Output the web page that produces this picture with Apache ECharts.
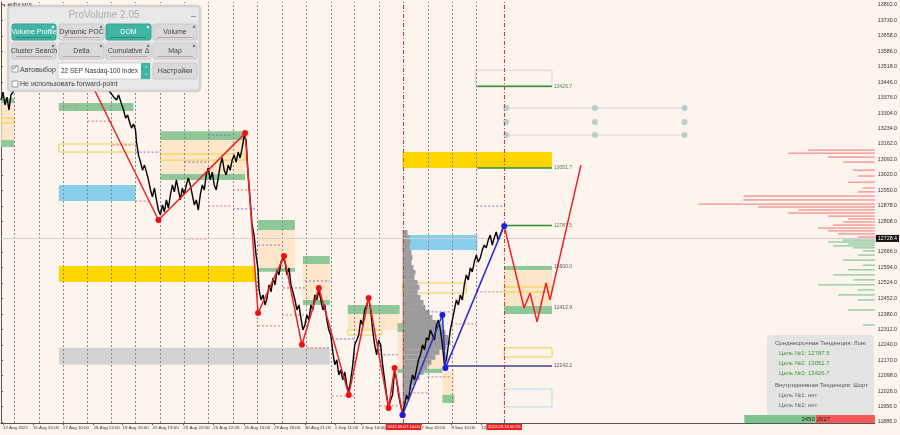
<!DOCTYPE html>
<html>
<head>
<meta charset="utf-8">
<script src="https://cdn.jsdelivr.net/npm/echarts@6/dist/echarts.min.js"></script>
<style>
  html, body { margin: 0; padding: 0; background: #fdf4ee; }
  #chart { width: 900px; height: 435px; }
</style>
</head>
<body>
<div id="chart"></div>
<script>
// price axis labels (right side)
const priceTicks = [13802, 13730, 13658, 13586, 13518, 13446, 13376, 13304, 13234, 13162, 13092, 13020,
  12950, 12878, 12808, 12666, 12594, 12524, 12452, 12380, 12312, 12240, 12170, 12098, 12026, 11956, 11886]
// time axis: bar index of each label and its text
const timeIdx = [2, 32, 62, 93, 122, 152, 183, 213, 244, 274, 305, 335, 362, 422, 452, 482]
const timeText = ['12 Aug 2022', '15 Aug 20:00', '17 Aug 10:00', '18 Aug 13:00', '19 Aug 16:00', '22 Aug 19:00',
  '23 Aug 22:00', '25 Aug 12:00', '26 Aug 15:00', '29 Aug 18:00', '30 Aug 21:00', '1 Sep 11:00', '2 Sep 14:00',
  '7 Sep 20:00', '9 Sep 10:00', '12 Sep 13:00']
const sessionIdx = [13, 38, 62, 87, 111, 135, 160, 184, 208, 233, 257, 282, 306, 331, 355, 380, 429, 453, 477]
const markedBars = [[404, '2022.09.07 10:00'], [505, '2022.09.13 00:15']]
const lastPrice = 12728.4

// NDX M15 close path [bar, price]
const priceBars = [[0,13364],[2,13400],[4,13341],[6,13377],[8,13318],[10,13387],[20,13455],[30,13501],[40,13547],
  [50,13478],[60,13524],[70,13455],[80,13501],[90,13433],[100,13478],[108,13410],[113,13378],[116,13364],[118,13387],
  [121,13345],[123,13318],[125,13281],[127,13295],[129,13263],[131,13235],[133,13254],[135,13226],[136,13171],
  [138,13111],[140,13079],[142,13042],[144,13065],[146,13033],[148,12997],[150,12951],[152,12919],[154,12960],
  [156,12905],[158,12859],[160,12836],[162,12882],[164,12850],[166,12905],[168,12868],[170,12928],[172,12974],
  [174,12942],[176,12997],[178,12951],[180,12905],[182,12960],[184,12928],[186,12974],[188,13006],[190,12974],
  [192,12928],[194,12882],[196,12905],[198,12859],[200,12928],[202,12974],[204,12951],[206,13020],[208,13052],
  [210,12997],[212,13033],[214,12974],[216,12951],[218,13006],[220,13065],[222,13098],[224,13042],[226,13020],
  [228,13065],[230,13042],[232,13088],[234,13111],[236,13079],[238,13125],[240,13098],[242,13143],[244,13198],
  [246,13180],[248,13020],[250,12905],[252,12790],[254,12744],[256,12652],[258,12584],[259,12492],[261,12446],
  [263,12469],[265,12423],[267,12455],[269,12515],[271,12483],[273,12547],[275,12515],[277,12584],[279,12561],
  [281,12620],[283,12639],[285,12620],[287,12561],[289,12593],[291,12515],[293,12483],[295,12446],[297,12400],
  [299,12423],[301,12363],[303,12308],[305,12331],[307,12377],[309,12354],[311,12423],[313,12400],[315,12469],
  [317,12446],[319,12492],[321,12446],[323,12400],[325,12423],[327,12354],[329,12308],[331,12285],[333,12207],
  [335,12148],[337,12171],[339,12102],[341,12125],[343,12079],[345,12116],[347,12056],[349,12024],[351,12079],
  [353,12148],[355,12240],[357,12262],[359,12285],[361,12354],[363,12331],[365,12400],[367,12423],[369,12455],
  [371,12400],[373,12308],[375,12240],[377,12194],[379,12262],[381,12240],[383,12148],[385,12079],[387,12010],
  [389,11950],[391,11987],[393,12010],[395,12125],[397,12079],[399,12010],[401,11964],[403,11927],[405,11964],
  [407,12010],[409,11987],[411,12056],[413,12102],[415,12079],[417,12125],[419,12171],[421,12194],[423,12240],
  [425,12217],[427,12272],[429,12262],[431,12308],[433,12285],[435,12262],[437,12331],[439,12354],[441,12308],
  [443,12240],[445,12148],[447,12171],[449,12240],[451,12308],[453,12354],[455,12400],[457,12446],[459,12423],
  [461,12469],[463,12446],[465,12515],[467,12561],[469,12538],[471,12593],[473,12575],[475,12620],[477,12652],
  [479,12620],[481,12639],[483,12675],[485,12698],[487,12685],[489,12721],[491,12744],[493,12698],[495,12731],
  [497,12758],[499,12721],[501,12744],[503,12767],[505,12786]]

const zigzagRed = [[82,13520],[158,12813],[245,13212],[258,12386],[284,12648],[302,12240],[319,12501],
  [349,12010],[369,12455],[389,11950],[395,12134],[403,11918]]
const zigzagBlue = [[403,11918],[443,12377],[446,12134],[505,12786]]
const forecast = [[505,12786],[525,12409],[531,12478],[538,12345],[547,12524],[551,12446],[582,13065]]

// zones: kind, bar from, bar to, price high, price low
const zones = [
  ['zone',0,13,13350,13180],['green',0,13,13373,13350],['yBox',0,13,13281,13258],['green',0,13,13180,13148],
  ['green',58,133,13350,13313],['yBox',58,135,13162,13125],['blue',58,135,12974,12900],
  ['gray',58,330,12226,12148],['yellow',58,255,12602,12528],
  ['zone',160,245,13180,13020],['green',160,245,13221,13180],['yBox',160,245,13116,13088],['green',160,245,13024,12997],
  ['zone',258,295,12767,12593],['green',258,295,12813,12767],['green',258,295,12593,12575],
  ['zone',303,330,12611,12446],['green',303,330,12648,12611],['green',303,330,12446,12423],
  ['zone',348,400,12382,12308],['green',348,400,12423,12382],['yBox',348,382,12308,12285],
  ['zone',398,443,12299,12130],['green',398,443,12340,12299],['green',398,443,12130,12111],
  ['yBox',403,467,12524,12478],['zone',443,455,12125,12010],['green',443,455,12010,11973],
  ['grayBox',476,553,13501,13423],['yellow',403,553,13125,13052],['blue',403,478,12744,12675],
  ['zone',505,553,12584,12418],['green',505,553,12602,12584],['yBox',505,553,12505,12483],['green',505,553,12418,12382],
  ['yBox',505,553,12226,12184],['bBox',505,553,12037,11955]
]
// short dashed levels: bar from, bar to, price, colour key
const dashLevels = [[62,77,13336,'r'],[87,110,13267,'r'],[112,133,13157,'r'],[135,160,13125,'b'],[135,150,12900,'r'],
  [208,232,13203,'b'],[184,207,13079,'b'],[233,257,12951,'r'],[208,232,12877,'r'],[233,257,12864,'b'],
  [184,207,12726,'r'],[258,283,12698,'b'],[283,305,12501,'b'],[282,305,12377,'r'],[258,282,12327,'r'],
  [307,330,12226,'r'],[332,355,12267,'b'],[332,355,12005,'r'],[380,400,12194,'b'],[380,400,11960,'r'],
  [305,330,12533,'b'],[428,452,12391,'b'],[452,477,12336,'r'],[410,428,12019,'r'],[428,452,12093,'r'],
  [477,505,12483,'r'],[477,503,12877,'b']]
// target levels: bar from, bar to, price, colour key
const targets = [[478,553,13426.7,'g'],[478,553,13051.7,'g'],[505,553,12787.5,'g'],[505,553,12600.0,'n'],
  [505,553,12412.9,'n'],[446,553,12142.2,'v']]
const gridDotsX = [507, 596, 686]
const gridDotsP = [13327, 13263, 13203]

// session volume profile (gray): price, bar where it ends
const sessProfile = [[12767,408],[12744,410],[12721,411],[12698,410],[12675,412],[12652,413],[12629,412],
  [12606,414],[12584,416],[12561,415],[12538,418],[12515,420],[12492,418],[12469,421],[12446,424],[12423,426],
  [12400,430],[12377,433],[12354,437],[12331,441],[12308,446],[12285,449],[12262,451],[12240,447],[12217,440],
  [12194,436],[12171,432],[12148,428],[12125,424],[12102,420],[12079,416],[12056,413],[12033,410],[12010,408],
  [11987,407],[11964,405]]
// right DOM-like profile: price, bar where it starts
const sellProfile = [[13134,810],[13120,790],[13102,830],[13079,845],[13042,855],[13015,860],[12987,850],
  [12960,865],[12942,860],[12923,745],[12905,745],[12886,700],[12873,760],[12859,800],[12845,790],[12831,830],
  [12818,850],[12804,845],[12790,835],[12776,820],[12763,830],[12749,840],[12735,860]]
const buyProfile = [[12721,845],[12712,830],[12703,850],[12694,835],[12685,855],[12671,865],[12652,860],
  [12629,845],[12606,865],[12584,850],[12561,835],[12538,855],[12515,820],[12492,860],[12469,840],[12446,860],
  [12400,850],[12331,865]]
const buyVol = 2450
const sellVol = 2027

const FONT = '"Liberation Sans", Arial, sans-serif'
const chart = echarts.init(document.getElementById('chart'))

const zoneStyle = {
  green: { fill: '#8fc898' },
  yellow: { fill: '#ffd600' },
  blue: { fill: '#87ceeb' },
  gray: { fill: '#d3d3d3' },
  zone: { fill: 'rgba(252,226,188,0.75)' },
  yBox: { fill: 'none', stroke: '#f0d040', lineWidth: 1 },
  grayBox: { fill: 'none', stroke: '#d6d6d6', lineWidth: 1 },
  bBox: { fill: 'none', stroke: '#b6dbe8', lineWidth: 1 }
}
const dashColor = { r: '#e07070', b: '#7070d8' }
const targetColor = { g: '#2f8f2f', n: null, v: '#40408a' }

function button(x, y, w, label, on) {
  return [
    { type: 'rect', shape: { x, y, width: w, height: 16, r: 2 },
      style: { fill: on ? '#40b5a5' : '#dadada', stroke: on ? '#36a090' : '#c8c8c8' } },
    { type: 'text', style: { text: label, x: x + w / 2, y: y + 8, align: 'center', verticalAlign: 'middle',
      fill: on ? '#fff' : '#444', font: '7px ' + FONT } },
    { type: 'circle', shape: { cx: x + w - 3, cy: y + 3, r: 1.3 }, style: { fill: on ? '#e8f8f5' : '#777' } },
    { type: 'rect', shape: { x: x + 4, y: y + 13, width: w - 8, height: 1 }, style: { fill: on ? '#2e8a7c' : '#c9a0a0' } }
  ]
}

const panel = [
  { type: 'rect', shape: { x: 8, y: 6, width: 192, height: 85, r: 2 }, style: { fill: '#e9e9e9', stroke: '#c4c4c4',
    shadowBlur: 3, shadowColor: 'rgba(0,0,0,0.15)' } },
  { type: 'text', style: { text: 'ProVolume 2.05', x: 104, y: 15, align: 'center', verticalAlign: 'middle', fill: '#ababab',
    font: '10px ' + FONT } },
  { type: 'rect', shape: { x: 191, y: 16, width: 5, height: 1 }, style: { fill: '#999' } },
  ...button(12, 24, 44, 'Volume Profile', true), ...button(59, 24, 45, 'Dynamic POC', false),
  ...button(106, 24, 45, 'DOM', true), ...button(153, 24, 44, 'Volume', false),
  ...button(12, 43, 44, 'Cluster Search', false), ...button(59, 43, 45, 'Delta', false),
  ...button(106, 43, 45, 'Cumulative Δ', false), ...button(153, 43, 44, 'Map', false),
  { type: 'rect', shape: { x: 12, y: 66, width: 6, height: 6 }, style: { fill: '#fff', stroke: '#999' } },
  { type: 'text', style: { text: '✓', x: 12, y: 64, fill: '#2a8a80', font: '8px ' + FONT } },
  { type: 'text', style: { text: 'Автовыбор', x: 20, y: 70, verticalAlign: 'middle', fill: '#444', font: '7px ' + FONT } },
  { type: 'rect', shape: { x: 58, y: 63, width: 92, height: 16 }, style: { fill: '#fff', stroke: '#cfcfcf' } },
  { type: 'text', style: { text: '22 SEP Nasdaq-100 Index', x: 61, y: 71.5, verticalAlign: 'middle', fill: '#333',
    font: '6.5px ' + FONT } },
  { type: 'rect', shape: { x: 141, y: 63, width: 9, height: 16 }, style: { fill: '#40b5a5' } },
  { type: 'text', style: { text: '⌃\n⌄', x: 145.5, y: 71, align: 'center', verticalAlign: 'middle', fill: '#fff',
    font: '5px ' + FONT } },
  { type: 'rect', shape: { x: 153, y: 63, width: 44, height: 16, r: 2 }, style: { fill: '#dadada', stroke: '#c8c8c8' } },
  { type: 'text', style: { text: 'Настройки', x: 175, y: 71.5, align: 'center', verticalAlign: 'middle', fill: '#444',
    font: '7px ' + FONT } },
  { type: 'rect', shape: { x: 12, y: 81, width: 6, height: 6 }, style: { fill: '#fff', stroke: '#999' } },
  { type: 'text', style: { text: 'Не использовать forward-point', x: 20, y: 84.5, verticalAlign: 'middle', fill: '#444',
    font: '7px ' + FONT } }
]

const infoLines = [
  ['Среднесрочная Тенденция: Лонг', '#555', 775, 343],
  ['Цель №1: 12787.5', '#3f9a36', 779, 353],
  ['Цель №2: 13051.7', '#3f9a36', 779, 363],
  ['Цель №3: 13426.7', '#3f9a36', 779, 373],
  ['Внутридневная Тенденция: Шорт', '#555', 775, 385],
  ['Цель №1: нет', '#666', 779, 395],
  ['Цель №2: нет', '#666', 779, 405]
]
const info = [
  { type: 'rect', shape: { x: 767, y: 335, width: 107, height: 80, r: 3 }, style: { fill: 'rgba(226,226,226,0.92)' } },
  ...infoLines.map(([t, c, x, y]) => ({ type: 'text', style: { text: t, x, y, verticalAlign: 'middle', fill: c,
    font: '6px ' + FONT } }))
]
// overlays must sit above every series
const onTop = els => els.map(e => Object.assign({ z: 200, zlevel: 1 }, e))

chart.setOption({
  animation: false,
  backgroundColor: '#fdf4ee',
  textStyle: { fontFamily: FONT },
  grid: { left: 0, right: 23, top: 2, bottom: 12 },
  xAxis: {
    type: 'value', min: 0, max: 877,
    splitLine: { show: false },
    axisLine: { lineStyle: { color: '#555' } },
    axisTick: { customValues: timeIdx, length: 2, lineStyle: { color: '#555' } },
    axisLabel: {
      customValues: timeIdx, fontSize: 4.4, color: '#333', align: 'left', margin: 3,
      showMinLabel: true, showMaxLabel: true, hideOverlap: false,
      formatter: v => timeText[timeIdx.indexOf(v)] || ''
    }
  },
  yAxis: {
    type: 'value', position: 'right', min: 11881, max: 13814,
    splitLine: { show: false },
    axisLine: { show: true, lineStyle: { color: '#555' } },
    axisTick: { show: true, customValues: priceTicks, length: 2, lineStyle: { color: '#555' } },
    axisLabel: { customValues: priceTicks, fontSize: 5.3, color: '#333', margin: 3, formatter: v => v.toFixed(1) }
  },
  graphic: [
    ...onTop([{ type: 'text', style: { text: '▾ #NDX,M15', x: 3, y: 3, fill: '#333', font: '5px ' + FONT } }]),
    ...onTop(panel),
    ...onTop(info)
  ],
  series: [
    {
      type: 'custom', name: 'zones', z: 1, clip: true,
      data: zones.map(z => [z[1], z[3]]),
      renderItem: (params, api) => {
        const z = zones[params.dataIndex]
        const a = api.coord([z[1], z[3]]), b = api.coord([z[2], z[4]])
        return { type: 'rect', shape: { x: a[0], y: a[1], width: b[0] - a[0], height: b[1] - a[1] }, style: zoneStyle[z[0]] }
      }
    },
    {
      type: 'custom', name: 'session profile', z: 2,
      data: sessProfile.map(d => [d[1], d[0]]),
      renderItem: (params, api) => {
        const a = api.coord([403, api.value(1)]), b = api.coord([api.value(0), api.value(1) - 23])
        return { type: 'rect', shape: { x: a[0], y: a[1], width: b[0] - a[0], height: b[1] - a[1] }, style: { fill: '#9c9c9c' } }
      }
    },
    {
      type: 'custom', name: 'dom', z: 2,
      data: sellProfile.map(d => [d[1], d[0], 0]).concat(buyProfile.map(d => [d[1], d[0], 1])),
      renderItem: (params, api) => {
        const a = api.coord([api.value(0), api.value(1)]), b = api.coord([877, api.value(1)])
        return { type: 'line', shape: { x1: a[0], y1: a[1], x2: b[0], y2: b[1] },
          style: { stroke: api.value(2) ? 'rgba(60,170,100,0.75)' : 'rgba(240,60,60,0.7)', lineWidth: 1 } }
      }
    },
    {
      type: 'custom', name: 'dash levels', z: 3,
      data: dashLevels.map(d => [d[0], d[2]]),
      renderItem: (params, api) => {
        const d = dashLevels[params.dataIndex]
        const a = api.coord([d[0], d[2]]), b = api.coord([d[1], d[2]])
        return { type: 'line', shape: { x1: a[0], y1: a[1], x2: b[0], y2: b[1] },
          style: { stroke: dashColor[d[3]], lineWidth: 1, lineDash: [2, 2] } }
      }
    },
    {
      type: 'custom', name: 'targets', z: 6,
      data: targets.map(d => [d[0], d[2]]),
      renderItem: (params, api) => {
        const d = targets[params.dataIndex]
        const a = api.coord([d[0], d[2]]), b = api.coord([d[1], d[2]])
        const children = [{ type: 'text', style: { text: d[2].toFixed(1), x: b[0] + 2, y: b[1], verticalAlign: 'middle',
          fill: d[3] === 'g' ? '#4f7f4f' : '#555', font: '5px ' + FONT } }]
        if (targetColor[d[3]]) children.unshift({ type: 'line', shape: { x1: a[0], y1: a[1], x2: b[0], y2: b[1] },
          style: { stroke: targetColor[d[3]], lineWidth: 1.5 } })
        return { type: 'group', children }
      }
    },
    {
      type: 'custom', name: 'volume split', z: 6,
      data: [[buyVol, sellVol]],
      renderItem: (params, api) => {
        const b = api.value(0), s = api.value(1)
        const right = api.coord([877, 11881]), top = api.coord([877, 11918])
        const len = api.coord([131, 0])[0] - api.coord([0, 0])[0]
        const wb = len * b / (b + s), ws = len * s / (b + s)
        const x0 = right[0] - len, h = right[1] - top[1]
        return { type: 'group', children: [
          { type: 'rect', shape: { x: x0, y: top[1], width: wb, height: h }, style: { fill: '#7cc38e' } },
          { type: 'rect', shape: { x: x0 + wb, y: top[1], width: ws, height: h }, style: { fill: '#f25a5a' } },
          { type: 'text', style: { text: String(b), x: x0 + wb - 1, y: top[1] + h / 2, align: 'right', verticalAlign: 'middle',
            fill: '#222', font: '6px ' + FONT } },
          { type: 'text', style: { text: String(s), x: x0 + wb + 1, y: top[1] + h / 2, verticalAlign: 'middle',
            fill: '#222', font: '6px ' + FONT } }
        ] }
      }
    },
    {
      type: 'line', name: 'grid row 1', z: 3, data: gridDotsX.map(x => [x, gridDotsP[0]]), symbol: 'none',
      lineStyle: { color: '#d9d9d9', width: 1 }
    },
    {
      type: 'line', name: 'grid row 3', z: 3, data: gridDotsX.map(x => [x, gridDotsP[2]]), symbol: 'none',
      lineStyle: { color: '#d9d9d9', width: 1 }
    },
    {
      type: 'scatter', name: 'grid dots', z: 4, symbolSize: 6,
      data: gridDotsP.flatMap(p => gridDotsX.map(x => [x, p])),
      itemStyle: { color: '#a5c9c4' }
    },
    {
      type: 'line', name: 'NDX', z: 5, data: priceBars, showSymbol: false, symbol: 'none',
      lineStyle: { color: '#000', width: 1.4 },
      markLine: {
        silent: true, symbol: 'none',
        data: [
          ...sessionIdx.map(x => ({ xAxis: x, lineStyle: { color: '#8a8a8a', type: [2, 2], width: 1 }, label: { show: false } })),
          ...markedBars.map(([x, t]) => ({ xAxis: x, lineStyle: { color: '#e03030', type: [4, 2, 1, 2], width: 1 },
            label: { show: true, position: 'start', formatter: t, fontSize: 4.2, color: '#fff', backgroundColor: '#e82020',
              padding: [1, 1.5], distance: 1 } })),
          { yAxis: lastPrice, lineStyle: { color: '#cfcfcf', type: 'solid', width: 1 },
            label: { show: true, position: 'end', formatter: lastPrice.toFixed(1), fontSize: 5.3, color: '#fff',
              backgroundColor: '#111', padding: [1, 2], distance: 1 } }
        ]
      }
    },
    {
      type: 'line', name: 'zigzag', z: 7, data: zigzagRed, symbol: 'circle', symbolSize: 6,
      lineStyle: { color: '#e22', width: 1.5 }, itemStyle: { color: '#f01010' }
    },
    {
      type: 'line', name: 'impulse', z: 7, data: zigzagBlue, symbol: 'circle', symbolSize: 6,
      lineStyle: { color: '#2a2ad8', width: 1.5 }, itemStyle: { color: '#1d1de0' }
    },
    {
      type: 'line', name: 'forecast', z: 7, data: forecast, symbol: 'none',
      lineStyle: { color: '#e22', width: 1.5 }
    }
  ]
})
</script>
</body>
</html>
